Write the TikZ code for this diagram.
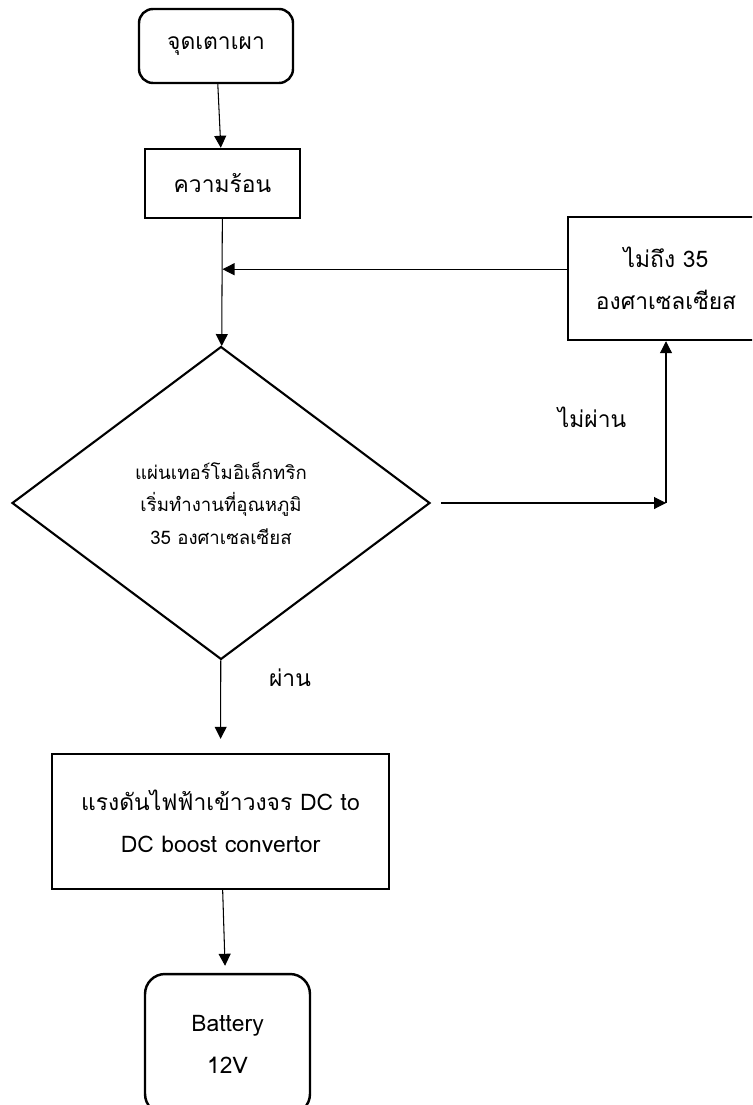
\documentclass[tikz,border=0pt]{standalone}
\usepackage{fontspec}
\setmainfont[Script=Thai]{Loma}
\usetikzlibrary{arrows.meta,positioning,shapes.geometric}

\begin{document}
\begin{tikzpicture}[
  x=0.02cm, y=-0.02cm,
  >={Triangle[length=0.24cm,width=0.24cm]},
  font=\fontsize{13pt}{24pt}\selectfont,
  box/.style={draw, line width=1.4pt, align=center, inner sep=2pt},
  rbox/.style={box, rounded corners=0.28cm},
  dec/.style={draw, diamond, line width=1.2pt, inner sep=0pt, align=center,
              font=\fontsize{10.6pt}{18.5pt}\selectfont},
  arr/.style={->, semithick},
  lbl/.style={inner sep=0pt},
]
  \clip (0,0) rectangle (752,1105);
  \node[rbox, minimum width=3.08cm, minimum height=1.48cm] (fire) at (216,46) {จุดเตาเผา};
  \node[box, minimum width=3.1cm, minimum height=1.38cm] (heat) at (222.5,183.5) {ความร้อน};
  \node[dec, minimum width=8.36cm, minimum height=6.26cm] (teg) at (221,503)
    {แผ่นเทอร์โมอิเล็กทริก\\เริ่มทำงานที่อุณหภูมิ\\35 องศาเซลเซียส};
  \node[box, minimum width=3.92cm, minimum height=2.46cm] (low) at (666,278.5)
    {ไม่ถึง 35\\องศาเซลเซียส};
  \node[box, minimum width=6.74cm, minimum height=2.7cm] (boost) at (220.5,821.5)
    {แรงดันไฟฟ้าเข้าวงจร DC to\\DC boost convertor};
  \node[rbox, rounded corners=0.4cm, minimum width=3.3cm, minimum height=2.8cm] (batt) at (227.5,1044)
    {Battery\\12V};

  \node[lbl] at (592,417) {ไม่ผ่าน};
  \node[lbl] at (290,678) {ผ่าน};

  \path (heat.south) ++(0,50) coordinate (join);
  \coordinate (turn) at (low.south |- teg.east);

  \draw[arr] (fire) -- (heat);
  \draw[arr] (heat) -- (teg);
  \draw[arr] (join -| low.west) -- (join);
  \draw[arr, shorten <=0.2cm] (teg.east) -- (turn);
  \draw[arr] (turn) -- (low);
  \draw[arr, shorten >=0.28cm] (teg) -- (boost);
  \draw[arr, shorten >=0.14cm] (boost) -- (batt);
\end{tikzpicture}
\end{document}
